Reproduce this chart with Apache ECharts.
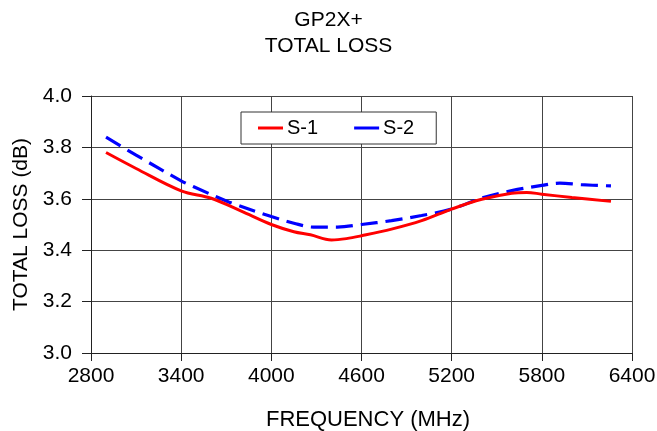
<!DOCTYPE html>
<html>
<head>
<meta charset="utf-8">
<script src="https://cdn.jsdelivr.net/npm/echarts@6/dist/echarts.min.js"></script>
<style>
html,body{margin:0;padding:0;background:#fff;}
#chart{width:657px;height:431px;}
</style>
</head>
<body>
<div id="chart"></div>
<script>
var titleLines = ['GP2X+', 'TOTAL LOSS'];
var xAxisName = 'FREQUENCY (MHz)';
var yAxisName = 'TOTAL LOSS (dB)';
var seriesNames = ['S-1', 'S-2'];

var freqS1 = [2900, 3100, 3400, 3600, 3800, 4000, 4150, 4260, 4400, 4500, 4600, 4800, 5000, 5200, 5400, 5600, 5700, 5800, 6000, 6260];
var lossS1 = [3.78, 3.718, 3.631, 3.602, 3.552, 3.50, 3.472, 3.46, 3.44, 3.445, 3.456, 3.482, 3.515, 3.56, 3.598, 3.622, 3.625, 3.618, 3.605, 3.59];

var freqS2 = [2900, 3100, 3400, 3480, 3720, 4000, 4150, 4280, 4440, 4600, 4800, 5000, 5200, 5400, 5600, 5800, 5920, 6060, 6260];
var lossS2 = [3.84, 3.77, 3.67, 3.648, 3.587, 3.531, 3.505, 3.49, 3.49, 3.50, 3.515, 3.535, 3.56, 3.603, 3.632, 3.652, 3.661, 3.655, 3.65];

function pairs(xs, ys) { return xs.map(function (x, i) { return [x, ys[i]]; }); }

var FONT = '"Liberation Sans", Arial, sans-serif';
var chart = echarts.init(document.getElementById('chart'), null, {renderer: 'canvas'});
chart.setOption({
  animation: false,
  backgroundColor: '#fff',
  title: {
    text: titleLines.join('\n'),
    left: 'center',
    top: 2,
    textStyle: {fontFamily: FONT, fontSize: 21, fontWeight: 'normal', color: '#000', lineHeight: 26}
  },
  legend: {
    left: 241, top: 112,
    padding: [5, 22, 5, 17],
    itemGap: 36,
    itemWidth: 25, itemHeight: 3,
    backgroundColor: '#fff',
    borderColor: '#333', borderWidth: 1,
    textStyle: {fontFamily: FONT, fontSize: 20, color: '#000', lineHeight: 22, padding: [0,0,0,-1]},
    data: seriesNames.map(function (n) { return {name: n, icon: 'rect'}; })
  },
  grid: {left: 91, right: 25, top: 96, bottom: 78, containLabel: false, outerBoundsMode: 'none'},
  xAxis: {
    type: 'value', min: 2800, max: 6400, interval: 600,
    name: xAxisName, nameLocation: 'middle', nameGap: 56,
    nameTextStyle: {fontFamily: FONT, fontSize: 22, color: '#000', padding: [0, 0, 0, 13]},
    axisLine: {show: true, lineStyle: {color: '#222', width: 1}},
    axisTick: {show: true, inside: false, length: 8, lineStyle: {color: '#222'}},
    axisLabel: {fontFamily: FONT, fontSize: 21, color: '#000', margin: 13,
      formatter: function (v) { return String(v); }},
    splitLine: {show: true, lineStyle: {color: '#444', width: 1}}
  },
  yAxis: {
    type: 'value', min: 3.0, max: 4.0, interval: 0.2,
    name: yAxisName, nameLocation: 'middle', nameGap: 57, nameRotate: 90,
    nameTextStyle: {fontFamily: FONT, fontSize: 21, color: '#000'},
    axisLine: {show: true, lineStyle: {color: '#222', width: 1}},
    axisTick: {show: true, inside: false, length: 9, lineStyle: {color: '#222'}},
    axisLabel: {fontFamily: FONT, fontSize: 21, color: '#000', margin: 19,
      formatter: function (v) { return v.toFixed(1); }},
    splitLine: {show: true, lineStyle: {color: '#444', width: 1}}
  },
  series: [
    {
      name: seriesNames[0], type: 'line', data: pairs(freqS1, lossS1),
      smooth: 0.35, symbol: 'none', showSymbol: false,
      lineStyle: {color: '#ff0000', width: 3}, itemStyle: {color: '#ff0000'}, z: 3
    },
    {
      name: seriesNames[1], type: 'line', data: pairs(freqS2, lossS2),
      smooth: 0.35, symbol: 'none', showSymbol: false,
      lineStyle: {color: '#0000ff', width: 3.2, type: [17, 8]}, itemStyle: {color: '#0000ff'}, z: 2
    }
  ]
});
</script>
</body>
</html>
